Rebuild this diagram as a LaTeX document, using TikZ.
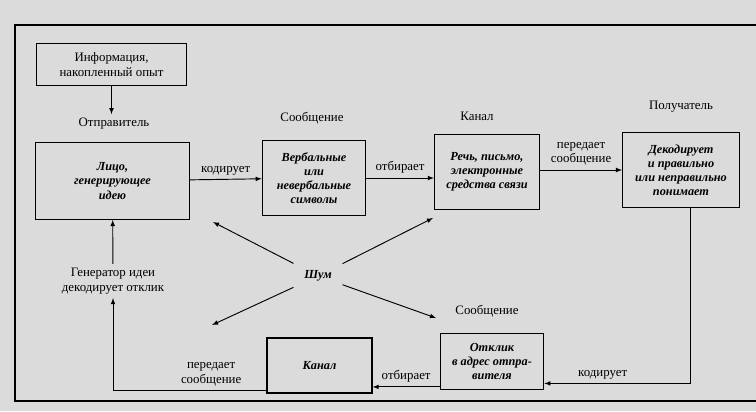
\documentclass[tikz,border=0pt]{standalone}
\usepackage{fontspec}
\setmainfont{Liberation Serif}
\usepackage{tikz}

\begin{document}
\begin{tikzpicture}[x=0.03cm,y=-0.03cm,>=latex,
    every node/.style={font=\fontsize{11}{12.5}\selectfont},
    box/.style={draw,line width=1pt,align=center,inner sep=2pt},
    bi/.style={font=\fontsize{10.5}{12}\selectfont\bfseries\itshape},
    lbl/.style={align=center},
    conn/.style={->,line width=0.8pt}]
    \useasboundingbox (0,0) rectangle (756,411);
    \fill[black!14] (0,0) rectangle (756,411);
    % frame
    \draw[line width=1.1pt] (756,25)--(15,25)--(15,401)--(756,401);
    % upper row
    \node[box,minimum width=4.5cm,minimum height=1.25cm] (info) at (111.5,64.5) {Информация,\\накопленный опыт};
    \node[lbl] (sendlbl) at (114,124) {Отправитель};
    \node[box,bi,minimum width=4.6cm,minimum height=2.3cm] (sender) at (112.5,181) {Лицо,\\генерирующее\\идею};
    \node[lbl] (msglbl) at (312,118) {Сообщение};
    \node[box,bi,minimum width=3.1cm,minimum height=2.25cm] (msg) at (314,178) {Вербальные\\или\\невербальные\\символы};
    \node[lbl] (chanlbl) at (477,116) {Канал};
    \node[box,bi,minimum width=3.15cm,minimum height=2.25cm] (chan) at (487,172) {Речь, письмо,\\электронные\\средства связи};
    \node[lbl] (recvlbl) at (681,107) {Получатель};
    \node[box,bi,minimum width=3.5cm,minimum height=2.25cm] (recv) at (681,170) {Декодирует\\и правильно\\или неправильно\\понимает};
    % noise
    \node[bi,inner sep=9pt] (noise) at (318,276) {Шум};
    \coordinate (n1) at (213,222);
    \coordinate (n2) at (433,218);
    \coordinate (n3) at (212,325);
    \coordinate (n4) at (436,318);
    % lower row
    \node[lbl] (genlbl) at (113,281) {Генератор идеи\\декодирует отклик};
    \node[lbl] (resplbl) at (487,311) {Сообщение};
    \node[box,bi,minimum width=3.1cm,minimum height=1.7cm] (resp) at (492,361.5) {Отклик\\в адрес отпра-\\вителя};
    \node[box,bi,minimum width=3.15cm,minimum height=1.65cm] (chanb) at (319.5,365.5) {Канал};
    % connectors
    \draw[conn] (info.south)--(info.south|-sendlbl.north);
    \draw[conn] (sender)--(msg) node[midway,above,lbl]{кодирует};
    \draw[conn] (msg.east)--(msg.east-|chan.west) node[midway,above,lbl]{отбирает};
    \draw[conn] (chan.east|-recv.west)--(recv.west) node[midway,above,lbl]{передает\\сообщение};
    \draw[conn] ([xshift=8pt]recv.south)|-([yshift=6pt]resp.south east) node[pos=0.8,above,lbl]{кодирует};
    \draw[conn] ([yshift=3pt]resp.south west)--([yshift=3pt]resp.south west-|chanb.east) node[midway,above,lbl]{отбирает};
    \draw[conn] ([yshift=3pt]chanb.south west)-|(genlbl.south) node[pos=0.18,above,lbl]{передает\\сообщение};
    \draw[conn] (genlbl)--(sender);
    \foreach \n in {n1,n2,n3,n4}
        \draw[conn] (noise)--(\n);
\end{tikzpicture}
\end{document}
